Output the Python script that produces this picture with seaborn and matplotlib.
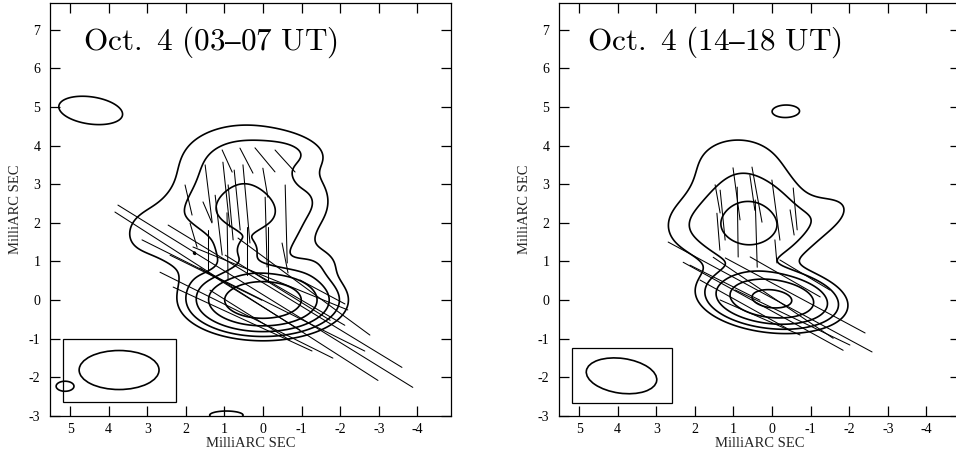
import numpy as np
import pandas as pd
import matplotlib
matplotlib.use("Agg")
import matplotlib.pyplot as plt
import seaborn as sns
from matplotlib.patches import Rectangle, Ellipse

# ---------------- data ----------------
panel_titles = ["Oct. 4 (03\u201307 UT)", "Oct. 4 (14\u201318 UT)"]
contour_levels = [1, 2, 4, 8, 16]
x_ticks = [5, 4, 3, 2, 1, 0, -1, -2, -3, -4]
y_ticks = [-3, -2, -1, 0, 1, 2, 3, 4, 5, 6, 7]

# source model components: position (mas), peak, sigma major/minor (mas), PA (deg E of N)
left_cx = [0.0, 0.47, 0.45, 0.5, -0.9, 2.9, -1.3, -1.4, -0.7, 2.3, 4.47, 5.13, 0.95]
left_cy = [0.0, 2.25, 1.2, 3.5, 3.85, 1.85, 2.6, 0.95, 1.5, 1.1, 4.91, -2.23, -2.98]
left_pk = [32, 4.5, 3.2, 2.9, 0.9, 1.15, 0.8, 1.3, 0.9, 1.0, 1.5, 1.3, 1.3]
left_sa = [0.84, 1.0, 0.55, 1.1, 0.6, 0.7, 0.4, 0.45, 0.5, 0.8, 0.92, 0.32, 0.6]
left_sb = [0.40, 0.55, 0.35, 0.7, 0.3, 0.45, 0.35, 0.3, 0.5, 0.35, 0.39, 0.18, 0.15]
left_pa = [90, 90, 90, 90, 80, 125, 0, 90, 90, 48, 82, 90, 90]

right_cx = [0.0, 0.6, 0.9, -1.4, 2.3, -0.38]
right_cy = [0.03, 1.95, 3.6, 2.2, 1.9, 4.9]
right_pk = [19.5, 5.2, 1.3, 1.1, 0.8, 1.3]
right_sa = [0.81, 0.9, 1.1, 0.75, 0.55, 0.4]
right_sb = [0.36, 0.7, 0.7, 0.4, 0.5, 0.18]
right_pa = [84, 90, 90, 115, 90, 90]

# polarization vectors: centre (mas), length (mas), EVPA (deg E of N)
left_vx = [-0.06, 0.43, 0.25, 0.43, 0.53, -0.57, -0.19, -1.06, 0.34, -0.38, 1.22, 0.34, -0.89, -1.54,
           1.93, 1.41, 1.44, 0.93, 0.95, 0.43, -0.05, -0.57, 0.43, -0.06, -0.08, -0.60, 1.42, 0.92,
           0.41, -0.13, -0.57, 1.80, 1.15, 0.67, 0.84]
left_vy = [0.10, 0.10, 0.12, -0.39, -0.49, 0.10, 0.56, 0.35, 0.03, 0.32, 0.58, -0.39, 0.06, 0.21,
           2.59, 2.76, 2.27, 3.60, 2.73, 3.61, 3.63, 3.60, 2.49, 3.04, 1.76, 1.97, 1.26, 1.39,
           1.27, 1.18, 1.09, 1.68, 1.94, 2.59, 2.27]
left_vl = [8.98, 8.09, 6.45, 5.0, 3.96, 7.09, 4.33, 4.24, 3.05, 3.2, 2.65, 2.44, 2.84, 1.32,
           0.80, 1.49, 0.59, 0.63, 1.69, 0.73, 0.81, 0.77, 2.03, 0.76, 1.81, 2.02, 1.11, 1.74,
           1.24, 1.42, 0.79, 0.65, 1.56, 1.56, 1.43]
left_va = [58.3, 57.4, 63.5, 63.6, 65.3, 58.7, 67.9, 53.7, 58.2, 58.2, 63.9, 58.0, 59.9, 62.0,
           13.1, 7.0, 23.2, 24.4, 6.1, 27.5, 39.8, 42.3, 5.1, 9.8, 1.6, 1.5, 0.0, 0.9,
           0.0, 0.0, 11.3, 16.3, 6.7, 5.7, 5.2]

right_vx = [0.05, 0.23, -0.03, -0.60, -0.34, 0.70, -0.53, -0.85, 0.31, 1.22,
            1.41, 1.39, 0.92, 0.89, 0.39, 0.41, -0.10, -0.10, -0.60, 1.28, 0.51, -0.52]
right_vy = [0.08, -0.16, 0.06, 0.12, 0.60, -0.13, -0.45, 0.65, -0.45, 0.45,
            2.62, 1.77, 2.75, 2.02, 2.73, 1.72, 2.33, 1.26, 2.36, 2.20, 2.78, 2.01]
right_vl = [6.0, 4.73, 3.75, 4.11, 2.09, 2.67, 3.3, 1.51, 2.26, 2.03,
            0.74, 0.96, 1.36, 1.81, 1.45, 1.74, 1.57, 0.60, 1.09, 1.30, 0.92, 0.66]
right_va = [61.7, 61.2, 56.0, 61.8, 60.3, 60.9, 64.4, 59.0, 66.4, 63.4,
            10.1, 4.6, 7.7, 0.8, 10.3, 1.7, 7.6, 5.0, 5.4, 5.7, 8.1, 9.1]

# restoring beams: centre, FWHM major/minor (mas), PA; inset box corners
beam_x = [3.73, 3.9]
beam_y = [-1.81, -1.96]
beam_maj = [2.07, 1.84]
beam_min = [1.01, 0.90]
beam_pa = [90, 82]
box_x = [(5.18, 2.25), (5.18, 2.59)]
box_y = [(-2.64, -1.01), (-2.67, -1.24)]

# ---------------- style ----------------
sns.set_theme(style="ticks")
plt.rcParams["font.family"] = ["Liberation Serif", "DejaVu Serif"]
plt.rcParams["mathtext.fontset"] = "cm"
plt.rcParams["axes.unicode_minus"] = False

fig = plt.figure(figsize=(9.56, 4.54), dpi=100)
W, H = 956.0, 454.0
axes_px = [(50, 3, 401, 413), (559, 3, 401, 413)]
title_pos = [(4.66, 6.48), (4.79, 6.48)]

gx = np.linspace(-6, 7, 520)
gy = np.linspace(-4, 9, 520)
X, Y = np.meshgrid(gx, gy)


def model(cx, cy, pk, sa, sb, pa):
    Z = np.zeros_like(X)
    for x0, y0, p, a, b, t in zip(cx, cy, pk, sa, sb, pa):
        t = np.deg2rad(t)
        dx, dy = X - x0, Y - y0
        along = dx * np.sin(t) + dy * np.cos(t)
        across = -dx * np.cos(t) + dy * np.sin(t)
        Z += p * np.exp(-0.5 * (along ** 2 / a ** 2 + across ** 2 / b ** 2))
    return Z


def vec_frame(vx, vy, vl, va):
    rows = []
    for i, (x, y, l, a) in enumerate(zip(vx, vy, vl, va)):
        e, n = np.sin(np.deg2rad(a)), np.cos(np.deg2rad(a))
        rows.append((i, 0, x + 0.5 * l * e, y + 0.5 * l * n))
        rows.append((i, 1, x - 0.5 * l * e, y - 0.5 * l * n))
    return pd.DataFrame(rows, columns=["seg", "end", "x", "y"])


panels = [
    (left_cx, left_cy, left_pk, left_sa, left_sb, left_pa, left_vx, left_vy, left_vl, left_va),
    (right_cx, right_cy, right_pk, right_sa, right_sb, right_pa, right_vx, right_vy, right_vl, right_va),
]

for k, p in enumerate(panels):
    l, t, w, h = axes_px[k]
    ax = fig.add_axes([l / W, (H - t - h) / H, w / W, h / H])
    Z = model(*p[:6])
    ax.contour(X, Y, Z, levels=contour_levels, colors="black", linewidths=1.2)
    df = vec_frame(*p[6:])
    sns.lineplot(data=df, x="x", y="y", units="seg", estimator=None, sort=False,
                 color="black", linewidth=0.75, legend=False, ax=ax)
    # beam inset
    bx0, bx1 = box_x[k]
    by0, by1 = box_y[k]
    ax.add_patch(Rectangle((bx1, by0), bx0 - bx1, by1 - by0, fill=False, ec="black", lw=0.9))
    ax.add_patch(Ellipse((beam_x[k], beam_y[k]), beam_maj[k], beam_min[k],
                         angle=90 - beam_pa[k], fill=False, ec="black", lw=1.2))
    ax.set_xlim(5.52, -4.87)
    ax.set_ylim(-3.0, 7.69)
    ax.set_xticks(x_ticks)
    ax.set_yticks(y_ticks)
    ax.set_xticklabels([str(v) for v in x_ticks])
    ax.set_yticklabels([str(v) for v in y_ticks])
    ax.tick_params(direction="in", top=True, right=True, length=7, width=0.9,
                   labelsize=10, colors="black", pad=5)
    ax.tick_params(axis="y", pad=7)
    for s in ax.spines.values():
        s.set_linewidth(0.9)
        s.set_color("black")
    ax.set_xlabel("MilliARC SEC", fontsize=10.5, labelpad=1)
    ax.set_ylabel("MilliARC SEC", fontsize=10.5, labelpad=5)
    tx, ty = title_pos[k]
    ax.text(tx, ty, "$\\mathrm{" + panel_titles[k].replace(" ", "\\ ") + "}$",
            fontsize=22.5, ha="left", va="baseline", color="black")

fig.savefig("out.png", dpi=100)
